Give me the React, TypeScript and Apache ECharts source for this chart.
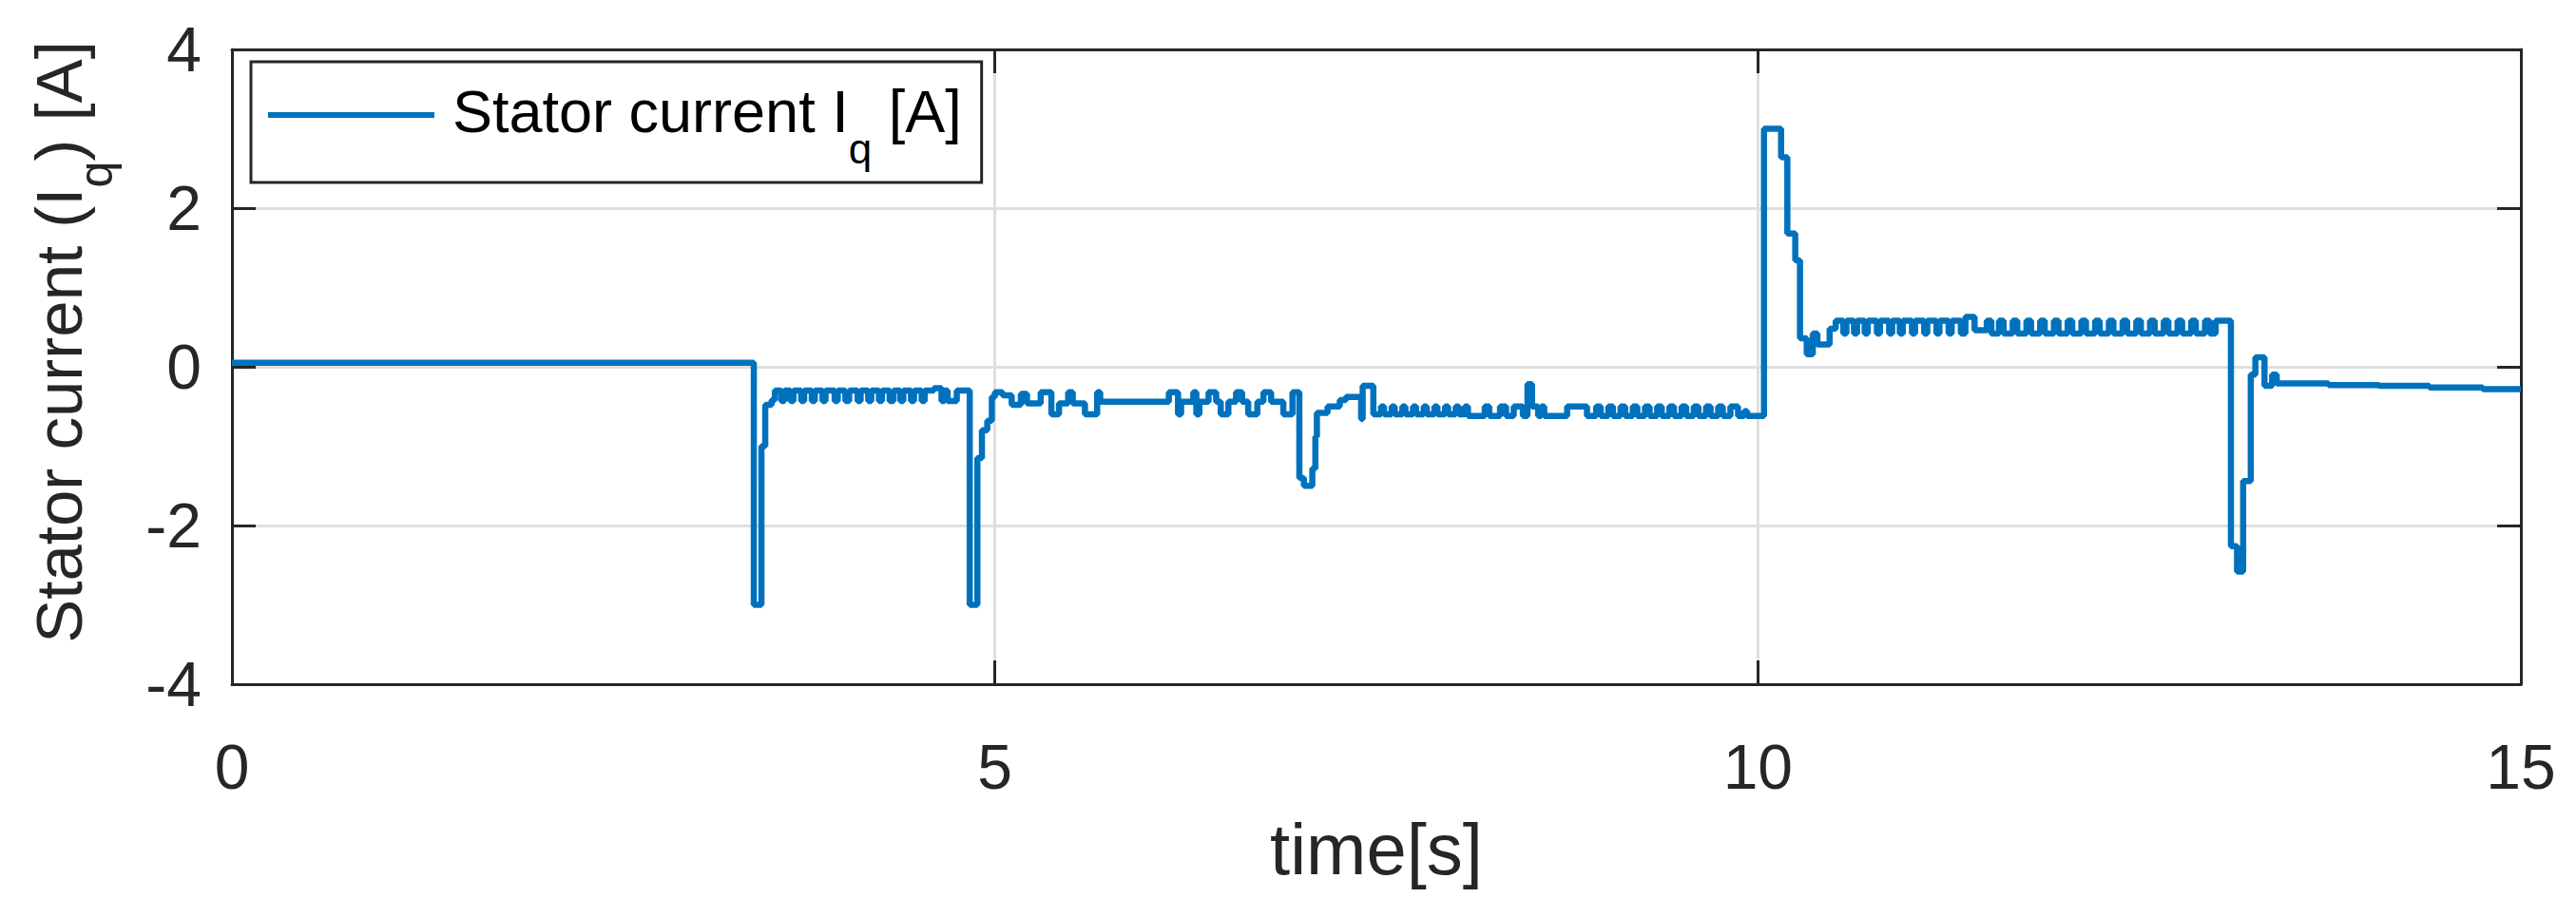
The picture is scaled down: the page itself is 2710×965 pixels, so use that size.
import { useEffect, useRef } from 'react'
import * as echarts from 'echarts'

// time [s] of each sample (zero-order hold until the next one)
const timeS = [
  0, 3.42, 3.47, 3.495, 3.537, 3.558, 3.6, 3.62, 3.66, 3.68, 3.73, 3.75, 3.8, 3.82, 3.87, 3.89,
  3.95, 3.97, 4.02, 4.045, 4.1, 4.12, 4.17, 4.19, 4.24, 4.26, 4.31, 4.335, 4.38, 4.4, 4.45, 4.47,
  4.52, 4.54, 4.6, 4.65, 4.67, 4.69, 4.75, 4.835, 4.885, 4.915, 4.95, 4.98,
  5.0, 5.05, 5.11, 5.17, 5.21, 5.3, 5.37, 5.42, 5.48, 5.51, 5.59, 5.67, 5.69,
  6.14, 6.2, 6.22, 6.3, 6.32, 6.34, 6.4, 6.45, 6.48, 6.53, 6.58, 6.62, 6.66, 6.72, 6.76, 6.81,
  6.89, 6.95, 6.995, 7.025, 7.08, 7.1, 7.11, 7.18, 7.26, 7.3, 7.4, 7.41, 7.48,
  7.53, 7.55, 7.6, 7.62, 7.67, 7.69, 7.74, 7.76, 7.81, 7.83, 7.88, 7.9, 7.95, 7.97, 8.02, 8.04,
  8.08, 8.1, 8.21, 8.24, 8.31, 8.35, 8.4, 8.46, 8.49, 8.52, 8.56, 8.58, 8.6, 8.75, 8.88,
  8.94, 8.97, 9.02, 9.05, 9.1, 9.13, 9.18, 9.21, 9.26, 9.29, 9.34, 9.37, 9.42, 9.45, 9.5, 9.53,
  9.58, 9.61, 9.66, 9.69, 9.74, 9.77, 9.82, 9.87, 9.91, 9.93,
  10.04, 10.152, 10.193, 10.245, 10.276, 10.32, 10.36, 10.39, 10.47, 10.51,
  10.56, 10.58, 10.63, 10.65, 10.7, 10.72, 10.78, 10.8, 10.86, 10.88, 10.93, 10.95, 11.01, 11.03,
  11.09, 11.11, 11.17, 11.19, 11.25, 11.27, 11.33, 11.36, 11.42, 11.5,
  11.53, 11.58, 11.61, 11.67, 11.7, 11.76, 11.79, 11.85, 11.88, 11.94, 11.97, 12.03, 12.06, 12.12,
  12.15, 12.21, 12.24, 12.3, 12.33, 12.39, 12.42, 12.48, 12.51, 12.57, 12.6, 12.66, 12.69, 12.75,
  12.78, 12.84, 12.87, 12.93, 12.96, 13.0,
  13.1, 13.14, 13.18, 13.23, 13.26, 13.32, 13.37, 13.4, 13.74, 14.07, 14.4, 14.75, 15.0,
]

// stator current Iq [A]
const iqA = [
  0.05, -3.0, -1.0, -0.48, -0.42, -0.3, -0.43, -0.3, -0.43, -0.3, -0.43, -0.3, -0.43, -0.3, -0.43, -0.3,
  -0.43, -0.3, -0.43, -0.3, -0.43, -0.3, -0.43, -0.3, -0.43, -0.3, -0.43, -0.3, -0.43, -0.3, -0.43, -0.3,
  -0.43, -0.3, -0.27, -0.43, -0.3, -0.43, -0.3, -3.0, -1.15, -0.8, -0.68, -0.38,
  -0.32, -0.36, -0.48, -0.34, -0.46, -0.32, -0.6, -0.46, -0.32, -0.46, -0.6, -0.32, -0.44,
  -0.32, -0.6, -0.44, -0.32, -0.6, -0.44, -0.32, -0.44, -0.6, -0.44, -0.32, -0.44, -0.6, -0.44, -0.32, -0.44,
  -0.6, -0.32, -1.4, -1.5, -1.28, -0.88, -0.58, -0.5, -0.42, -0.38, -0.66, -0.24, -0.6,
  -0.5, -0.6, -0.5, -0.6, -0.5, -0.6, -0.5, -0.6, -0.5, -0.6, -0.5, -0.6, -0.5, -0.6, -0.5, -0.6,
  -0.5, -0.62, -0.5, -0.62, -0.5, -0.62, -0.5, -0.62, -0.22, -0.5, -0.62, -0.5, -0.62, -0.5, -0.62,
  -0.5, -0.62, -0.5, -0.62, -0.5, -0.62, -0.5, -0.62, -0.5, -0.62, -0.5, -0.62, -0.5, -0.62, -0.5, -0.62,
  -0.5, -0.62, -0.5, -0.62, -0.5, -0.62, -0.5, -0.62, -0.56, -0.62,
  3.0, 2.64, 1.68, 1.34, 0.36, 0.16, 0.42, 0.28, 0.48, 0.58,
  0.42, 0.58, 0.42, 0.58, 0.42, 0.58, 0.42, 0.58, 0.42, 0.58, 0.42, 0.58, 0.42, 0.58,
  0.42, 0.58, 0.42, 0.58, 0.42, 0.58, 0.42, 0.63, 0.46, 0.58,
  0.42, 0.58, 0.42, 0.58, 0.42, 0.58, 0.42, 0.58, 0.42, 0.58, 0.42, 0.58, 0.42, 0.58,
  0.42, 0.58, 0.42, 0.58, 0.42, 0.58, 0.42, 0.58, 0.42, 0.58, 0.42, 0.58, 0.42, 0.58,
  0.42, 0.58, 0.42, 0.58, 0.42, 0.58,
  -2.26, -2.58, -1.44, -0.1, 0.12, -0.24, -0.1, -0.21, -0.23, -0.24, -0.26, -0.28, -0.28,
]

const xRange = [0, 15]
const xStep = 5
const yRange = [-4, 4]
const yStep = 2

const FONT = '"Liberation Sans", Arial, Helvetica, sans-serif'
const INK = '#262626'
const LINE = '#0072BD'

export default function App() {
  const chartRef = useRef<HTMLDivElement>(null)

  useEffect(() => {
    if (!chartRef.current) return
    const chart = echarts.init(chartRef.current, undefined, { renderer: 'svg' })

    const axisBase = {
      type: 'value' as const,
      axisLine: { show: true, onZero: false, lineStyle: { color: INK, width: 3 } },
      axisTick: { show: true, inside: true, length: 25, lineStyle: { color: INK, width: 3 } },
    }

    const option = {
      animation: false,
      backgroundColor: '#ffffff',
      textStyle: { fontFamily: FONT },
      grid: { left: 244, right: 58, top: 52, bottom: 245, containLabel: false },
      legend: {
        left: 264,
        top: 65,
        orient: 'vertical',
        icon: 'rect',
        itemWidth: 175,
        itemHeight: 6,
        backgroundColor: '#ffffff',
        borderColor: INK,
        borderWidth: 3,
        borderRadius: 0,
        padding: [20, 21, 14, 18],
        formatter: () => '{m|Stator current I}{s|q}{m| [A]}',
        textStyle: {
          color: '#000000',
          rich: {
            m: { fontSize: 63, fontFamily: FONT, color: '#000000', lineHeight: 72, verticalAlign: 'top' },
            s: { fontSize: 44, fontFamily: FONT, color: '#000000', lineHeight: 44, verticalAlign: 'top', padding: [49, 0, 0, 0] },
          },
          padding: [0, 0, 0, 14],
        },
      },
      xAxis: [
        {
          ...axisBase,
          min: xRange[0],
          max: xRange[1],
          interval: xStep,
          position: 'bottom',
          axisLabel: { color: INK, fontSize: 66, fontFamily: FONT, margin: 54 },
          splitLine: { show: true, lineStyle: { color: '#dfdfdf', width: 3 } },
          name: 'time[s]',
          nameLocation: 'middle',
          nameGap: 135,
          nameTextStyle: { color: INK, fontSize: 76, fontFamily: FONT },
        },
        {
          ...axisBase,
          min: xRange[0],
          max: xRange[1],
          interval: xStep,
          position: 'top',
          axisLabel: { show: false },
          splitLine: { show: false },
        },
      ],
      yAxis: [
        {
          ...axisBase,
          min: yRange[0],
          max: yRange[1],
          interval: yStep,
          position: 'left',
          axisLabel: { color: INK, fontSize: 66, fontFamily: FONT, margin: 32 },
          splitLine: { show: true, lineStyle: { color: '#dfdfdf', width: 3 } },
        },
        {
          ...axisBase,
          min: yRange[0],
          max: yRange[1],
          interval: yStep,
          position: 'right',
          axisLabel: { show: false },
          splitLine: { show: false },
        },
      ],
      graphic: [
        {
          type: 'text',
          x: 28,
          y: 360,
          rotation: Math.PI / 2,
          style: {
            text: '{m|Stator current (I}{s|q}{m|) [A]}',
            align: 'center',
            verticalAlign: 'top',
            fill: INK,
            rich: {
              m: { fontSize: 69, fontFamily: FONT, fill: INK, lineHeight: 76, verticalAlign: 'top' },
              s: { fontSize: 50, fontFamily: FONT, fill: INK, lineHeight: 50, verticalAlign: 'top', padding: [48, 0, 0, 0] },
            },
          },
        },
      ],
      series: [
        {
          name: 'Stator current Iq [A]',
          type: 'line',
          step: 'end',
          showSymbol: false,
          data: timeS.map((t, i) => [t, iqA[i]]),
          lineStyle: { color: LINE, width: 6.5 },
          itemStyle: { color: LINE },
        },
      ],
    }

    chart.setOption(option as any)
    return () => chart.dispose()
  }, [])

  return (
    <div
      ref={chartRef}
      style={{ position: 'fixed', left: 0, top: 0, width: 2710, height: 965, background: '#fff' }}
    />
  )
}
